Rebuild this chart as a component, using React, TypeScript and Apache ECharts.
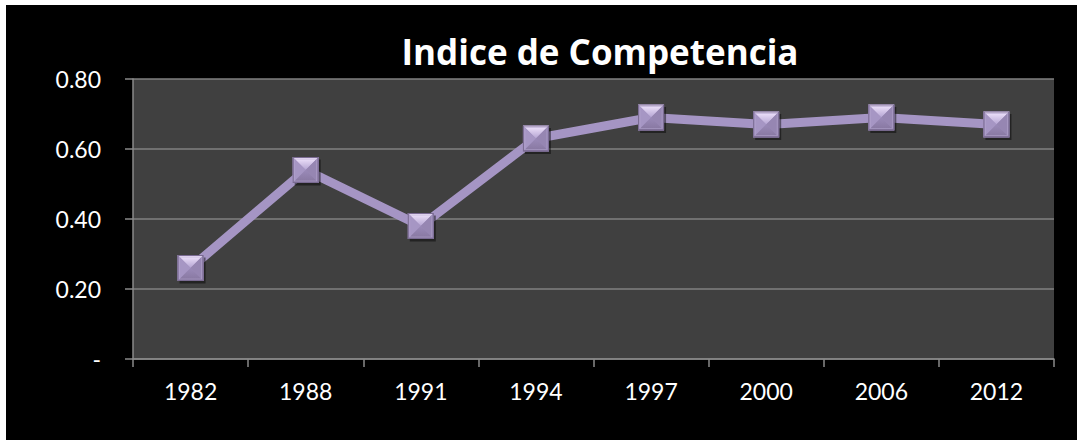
import React, { useEffect, useRef } from "react";
import * as echarts from "echarts";

const titleText = "Indice de Competencia";
const years = ["1982", "1988", "1991", "1994", "1997", "2000", "2006", "2012"];
const values = [0.26, 0.54, 0.38, 0.63, 0.69, 0.67, 0.69, 0.67];

const markerSvg = `<svg xmlns='http://www.w3.org/2000/svg' width='30' height='30' viewBox='0 0 30 30'>
<defs>
<linearGradient id='t' x1='0' y1='0' x2='0' y2='1'><stop offset='0' stop-color='#f4e8ff'/><stop offset='1' stop-color='#b4a4d2'/></linearGradient>
<linearGradient id='b' x1='0' y1='0' x2='0' y2='1'><stop offset='0' stop-color='#9a8ab8'/><stop offset='1' stop-color='#86769f'/></linearGradient>
</defs>
<rect x='3' y='3.5' width='26' height='26' fill='#000' opacity='0.45'/>
<rect x='1' y='1' width='26' height='26' fill='#9c8cba'/>
<polygon points='1,1 27,1 14,14' fill='url(#t)'/>
<polygon points='1,1 14,14 1,27' fill='#a696c4'/>
<polygon points='27,1 27,27 14,14' fill='#9686b2'/>
<polygon points='1,27 27,27 14,14' fill='url(#b)'/>
<rect x='3' y='3' width='22' height='22' fill='none' stroke='#b3a5cf' stroke-width='0.8' opacity='0.7'/>
<rect x='1.5' y='1.5' width='25' height='25' fill='none' stroke='#7a6b92' stroke-width='1'/>
</svg>`;
const markerUri = "image://data:image/svg+xml;charset=utf-8," + encodeURIComponent(markerSvg);

export default function App() {
  const ref = useRef<HTMLDivElement>(null);
  useEffect(() => {
    document.body.style.margin = "0";
    document.body.style.background = "#ffffff";
    const chart = echarts.init(ref.current!, null, { renderer: "svg" });
    chart.setOption({
      animation: false,
      backgroundColor: "#000000",
      graphic: [
        {
          type: "text",
          x: 594,
          y: 29,
          style: {
            text: titleText,
            fill: "#ffffff",
            font: "bold 35px 'Open Sans'",
            textAlign: "center",
            textVerticalAlign: "top",
          },
        },
      ],
      grid: {
        left: 127,
        right: 23,
        top: 74,
        bottom: 81,
        show: true,
        backgroundColor: "#404040",
        borderWidth: 0,
      },
      xAxis: {
        type: "category",
        data: years,
        boundaryGap: true,
        axisLine: { show: true, lineStyle: { color: "#8a8a8a", width: 1.5 } },
        axisTick: { show: true, length: 8, inside: false, lineStyle: { color: "#8a8a8a", width: 1.5 } },
        axisLabel: { color: "#ffffff", fontFamily: "Lato", fontSize: 23, margin: 20 },
        splitLine: { show: false },
      },
      yAxis: {
        type: "value",
        min: 0,
        max: 0.8,
        interval: 0.2,
        axisLine: { show: true, lineStyle: { color: "#8a8a8a", width: 1.5 } },
        axisTick: { show: true, length: 8, lineStyle: { color: "#8a8a8a", width: 1.5 } },
        axisLabel: {
          color: "#ffffff",
          fontFamily: "Lato",
          fontSize: 23,
          margin: 32,
          formatter: (v: number) => (v === 0 ? "-" : v.toFixed(2)),
        },
        splitLine: { show: true, lineStyle: { color: "#808080", width: 1.5 } },
      },
      series: [
        {
          type: "line",
          data: values,
          symbol: markerUri,
          symbolSize: 30,
          symbolOffset: [1, 1],
          lineStyle: { color: "#a595c4", width: 9 },
          itemStyle: { color: "#a595c4" },
          z: 3,
        },
      ],
    });
    return () => chart.dispose();
  }, []);
  return (
    <div
      ref={ref}
      style={{ position: "fixed", left: 6, top: 5, width: 1071, height: 435 }}
    />
  );
}
